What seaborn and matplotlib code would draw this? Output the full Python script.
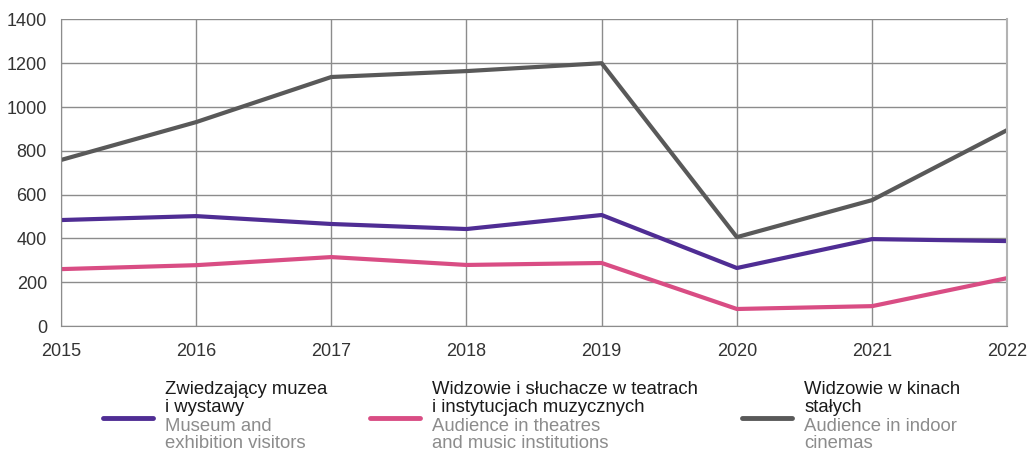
import numpy as np
import pandas as pd
import matplotlib
matplotlib.use('Agg')
import matplotlib.pyplot as plt
import seaborn as sns
from matplotlib.lines import Line2D

# Data
years = [2015, 2016, 2017, 2018, 2019, 2020, 2021, 2022]
museum = [484, 502, 466, 443, 507, 265, 397, 388]
theatres = [260, 278, 315, 279, 288, 78, 91, 219]
cinemas = [758, 931, 1137, 1164, 1200, 406, 575, 895]

series_pl = ['Zwiedzający muzea\ni wystawy',
             'Widzowie i słuchacze w teatrach\ni instytucjach muzycznych',
             'Widzowie w kinach\nstałych']
series_en = ['Museum and\nexhibition visitors',
             'Audience in theatres\nand music institutions',
             'Audience in indoor\ncinemas']
colors = ['#4f2d94', '#d94d84', '#595959']

df = pd.DataFrame({'year': years * 3,
                   'value': museum + theatres + cinemas,
                   'series': sum([[s] * len(years) for s in series_pl], [])})

sns.set_style('white')
plt.rcParams['font.family'] = ['Liberation Sans', 'DejaVu Sans']

fig = plt.figure(figsize=(10.31, 4.51), dpi=100)
ax = fig.add_axes([0.059, 0.277, 0.918, 0.68])

sns.lineplot(data=df, x='year', y='value', hue='series', palette=colors,
             linewidth=3, ax=ax, legend=False)

ax.set_xlim(2015, 2022)
ax.set_ylim(0, 1400)
ax.set_xticks(years)
ax.set_yticks(range(0, 1401, 200))
ax.grid(True, color='#8c8c8c', linewidth=1)
ax.set_axisbelow(True)
ax.set_xlabel('')
ax.set_ylabel('')
for side in ['left', 'bottom']:
    ax.spines[side].set_color('#8c8c8c')
ax.spines['right'].set_color('#b3b3b3')
ax.spines['right'].set_linewidth(1.5)
ax.spines['top'].set_visible(False)
ax.tick_params(length=0, labelsize=13, colors='#333333')
ax.tick_params(axis='x', pad=12)
ax.tick_params(axis='y', pad=10)

# Legend with bilingual labels
lx = [0.100, 0.359, 0.720]
for i in range(3):
    fig.add_artist(Line2D([lx[i], lx[i] + 0.048], [0.073, 0.073],
                          color=colors[i], linewidth=3.5,
                          transform=fig.transFigure))
    fig.text(lx[i] + 0.060, 1 - 381 / 451, series_pl[i], fontsize=13.3,
             color='#1a1a1a', va='top', linespacing=1.1)
    fig.text(lx[i] + 0.060, 1 - 418 / 451, series_en[i], fontsize=13.3,
             color='#8c8c8c', va='top', linespacing=1.0)

fig.savefig('out.png', dpi=100)
